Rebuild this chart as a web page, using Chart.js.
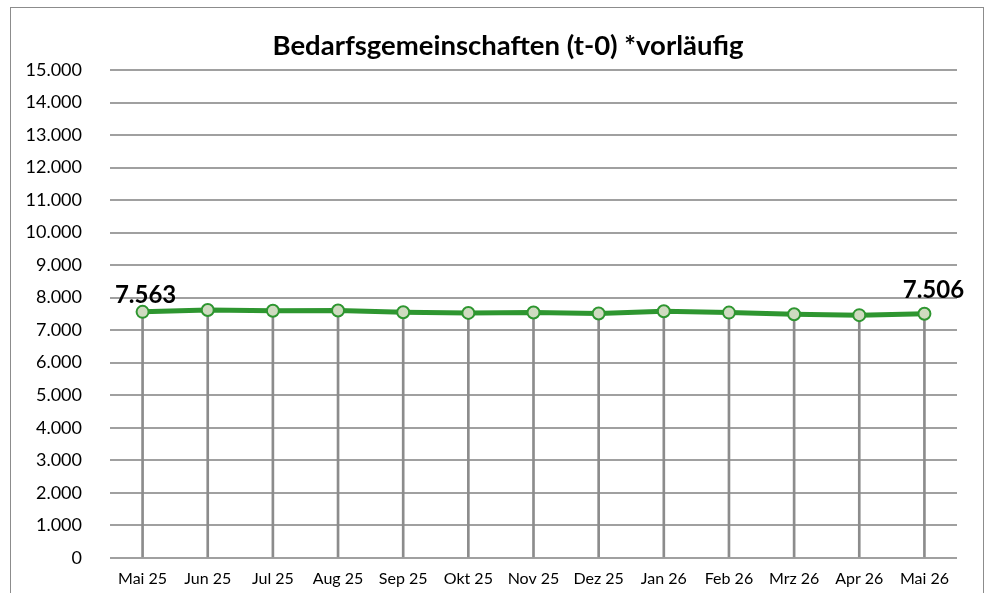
<!DOCTYPE html>
<html>
<head>
<meta charset="utf-8">
<script src="https://cdn.jsdelivr.net/npm/chart.js@4"></script>
<style>
  body { margin: 0; background: #fff; overflow: hidden; }
  #frame { position: absolute; left: 10px; top: 7px; width: 972px; height: 600px; border: 1px solid #8c8c8c; }
  #bgChart { position: absolute; left: 0; top: 0; }
</style>
</head>
<body>
<div id="frame"></div>
<canvas id="bgChart" width="985" height="599"></canvas>
<script>
// months shown on the x axis
const months = ['Mai 25', 'Jun 25', 'Jul 25', 'Aug 25', 'Sep 25', 'Okt 25', 'Nov 25',
                'Dez 25', 'Jan 26', 'Feb 26', 'Mrz 26', 'Apr 26', 'Mai 26'];
// Bedarfsgemeinschaften per month (first and last read from labels, rest estimated)
const bgValues = [7563, 7618, 7598, 7606, 7553, 7530, 7545, 7512, 7580, 7540, 7490, 7462, 7506];
const yMin = 0;
const yMax = 15000;
const yStep = 1000;
const titleText = 'Bedarfsgemeinschaften (t-0) *vorläufig';

const fontName = 'Lato, "Liberation Sans", sans-serif';

function fmt(v) {
    // german thousands separator
    return String(Math.round(v)).replace(/\B(?=(\d{3})+(?!\d))/g, '.');
}

// title sits a bit left of the plot centre, like in the original
const chartTitle = {
    id: 'chartTitle',
    afterDraw(chart) {
        const ctx = chart.ctx;
        ctx.save();
        ctx.font = 'bold 27.5px ' + fontName;
        ctx.fillStyle = '#000';
        ctx.textAlign = 'center';
        ctx.textBaseline = 'middle';
        ctx.fillText(titleText, 508, 46);
        ctx.restore();
    }
};

// labels only on first and last point
const endLabels = {
    id: 'endLabels',
    afterDatasetsDraw(chart) {
        const meta = chart.getDatasetMeta(0);
        const ctx = chart.ctx;
        ctx.save();
        ctx.font = 'bold 24px ' + fontName;
        ctx.fillStyle = '#000';
        ctx.textAlign = 'center';
        ctx.textBaseline = 'bottom';
        const first = meta.data[0];
        const last = meta.data[meta.data.length - 1];
        ctx.fillText(fmt(bgValues[0]), first.x + 3, first.y - 5);
        ctx.fillText(fmt(bgValues[bgValues.length - 1]), last.x + 9, last.y - 11);
        ctx.restore();
    }
};

const ctx = document.getElementById('bgChart').getContext('2d');
const chart = new Chart(ctx, {
    data: {
        labels: months,
        datasets: [
            {
                type: 'line',
                data: bgValues,
                borderColor: '#2e9630',
                borderWidth: 5,
                pointRadius: 6,
                pointHoverRadius: 6,
                pointBackgroundColor: '#cfdbc0',
                pointBorderColor: '#2e9630',
                pointBorderWidth: 2,
                tension: 0,
                order: 0
            },
            {
                // drop lines from the points down to the axis
                type: 'bar',
                data: bgValues,
                backgroundColor: '#8c8c8c',
                barThickness: 2,
                order: 1
            }
        ]
    },
    options: {
        responsive: false,
        animation: false,
        devicePixelRatio: 1,
        layout: { padding: { top: 70, right: 28, left: 0, bottom: 0 } },
        plugins: {
            legend: { display: false },
            tooltip: { enabled: false },
            title: { display: false }
        },
        scales: {
            x: {
                offset: true,
                grid: { display: false, drawTicks: false },
                border: { display: false },
                ticks: {
                    color: '#000',
                    font: { family: fontName, size: 16 },
                    padding: 11,
                    maxRotation: 0,
                    autoSkip: false
                }
            },
            y: {
                min: yMin,
                max: yMax,
                afterFit(scale) { scale.width = 110; },
                grid: { color: '#a0a0a0', lineWidth: 2, drawTicks: false },
                border: { display: false },
                ticks: {
                    stepSize: yStep,
                    color: '#000',
                    font: { family: fontName, size: 18 },
                    padding: 28,
                    callback: (v) => fmt(v)
                }
            }
        }
    },
    plugins: [endLabels, chartTitle]
});
</script>
</body>
</html>
